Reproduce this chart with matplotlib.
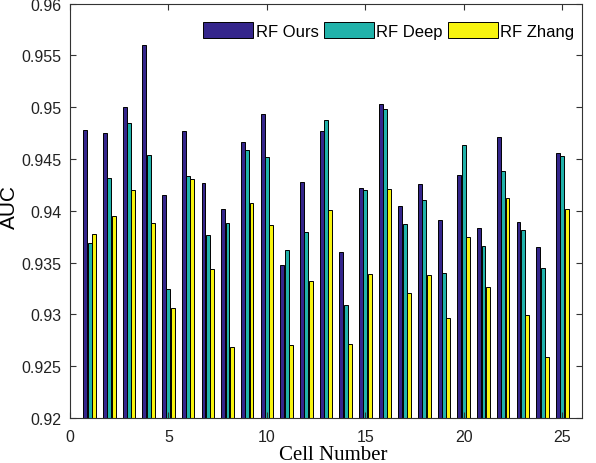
import matplotlib.pyplot as plt
import numpy as np

cells = np.arange(1, 26)
rf_ours = [0.9478, 0.9475, 0.9500, 0.9560, 0.9415, 0.9477, 0.9427, 0.9402, 0.9466, 0.9493,
           0.9348, 0.9428, 0.9477, 0.9360, 0.9422, 0.9503, 0.9405, 0.9426, 0.9391, 0.9435,
           0.9383, 0.9471, 0.9389, 0.9365, 0.9456]
rf_deep = [0.9369, 0.9432, 0.9485, 0.9454, 0.9325, 0.9434, 0.9377, 0.9388, 0.9459, 0.9452,
           0.9362, 0.9380, 0.9488, 0.9309, 0.9420, 0.9498, 0.9387, 0.9410, 0.9340, 0.9464,
           0.9366, 0.9438, 0.9381, 0.9345, 0.9453]
rf_zhang = [0.9378, 0.9395, 0.9420, 0.9388, 0.9306, 0.9431, 0.9344, 0.9269, 0.9408, 0.9386,
            0.9270, 0.9332, 0.9401, 0.9271, 0.9339, 0.9421, 0.9321, 0.9338, 0.9297, 0.9375,
            0.9326, 0.9412, 0.9299, 0.9259, 0.9402]

series = [("RF Ours", rf_ours, "#35268C"),
          ("RF Deep", rf_deep, "#21B2AA"),
          ("RF Zhang", rf_zhang, "#F7F40F")]

plt.rcParams['font.family'] = ['Liberation Sans', 'DejaVu Sans']

fig = plt.figure(figsize=(5.96, 4.64), dpi=100)
ax = fig.add_axes([0.1174, 0.097, 0.859, 0.893])

w = 0.2
offsets = [-0.22, 0.0, 0.22]
for (name, vals, col), off in zip(series, offsets):
    ax.bar(cells + off, vals, width=w, color=col, edgecolor='black',
           linewidth=0.7, label=name)

ax.set_xlim(0, 26)
ax.set_ylim(0.92, 0.96)
ax.set_xticks([0, 5, 10, 15, 20, 25])
yt = np.arange(0.92, 0.9601, 0.005)
ax.set_yticks(yt)
ax.set_yticklabels([f"{v:g}" for v in np.round(yt, 3)])
ax.tick_params(direction='in', top=True, right=True, labelsize=11.5,
               length=4, color='#333333', labelcolor='#222222')
ax.tick_params(axis='x', pad=8)
ax.tick_params(axis='y', pad=6)
for s in ax.spines.values():
    s.set_color('#333333')
    s.set_linewidth(0.8)

ax.set_xlabel("Cell Number", family='Liberation Serif', fontsize=15)
ax.xaxis.set_label_coords(0.514, -0.066)
ax.set_ylabel("AUC", fontsize=15)
ax.yaxis.set_label_coords(-0.1, 0.512)

leg = ax.legend(loc='upper right', ncol=3, frameon=False, fontsize=12,
                bbox_to_anchor=(1.005, 0.98), handlelength=3.0, handleheight=1.1,
                handletextpad=0.15, columnspacing=0.3, borderaxespad=0.2)

fig.savefig("out.png", dpi=100)
